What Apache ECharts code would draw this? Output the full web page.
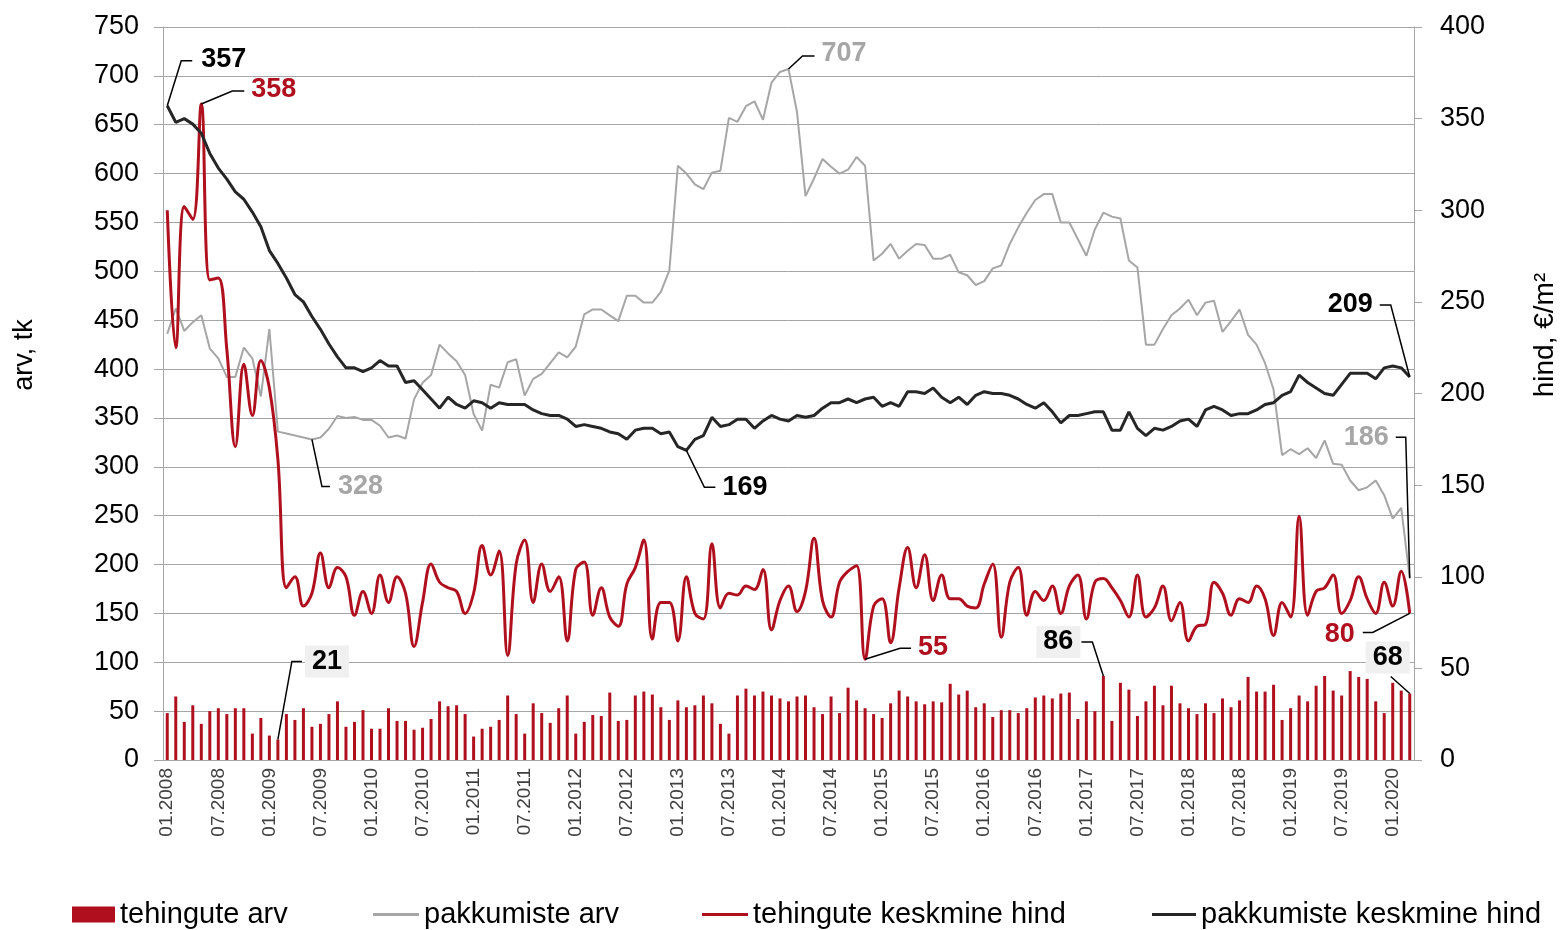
<!DOCTYPE html>
<html>
<head>
<meta charset="utf-8">
<script src="https://cdn.jsdelivr.net/npm/echarts@6/dist/echarts.min.js"></script>
<style>
html, body {margin:0; padding:0; background:#fff;}
#main {width:1561px; height:930px;}
</style>
</head>
<body>
<div id="main"></div>
<script>
// kuud 01.2008 ... 03.2020
var months = [];
for (var y = 2008; y <= 2020; y++) {
    for (var m = 1; m <= 12; m++) {
        if (months.length < 147) {
            months.push((m < 10 ? '0' + m : '' + m) + '.' + y);
        }
    }
}

// tehingute arv (vasak telg)
var tehinguteArv = [
    48,65,39,56,37,50,53,47,53,53,27,43,25,21,47,41,53,34,37,47,60,34,39,51,
    32,32,53,40,40,31,33,42,60,55,56,47,24,32,34,41,66,47,27,58,48,38,53,66,
    27,39,46,45,69,40,41,66,70,67,54,41,61,54,56,66,58,37,27,66,73,66,70,66,63,
    60,65,66,54,47,65,48,74,61,53,47,43,58,71,65,60,57,60,59,78,67,71,54,58,44,
    51,51,48,53,64,66,63,68,69,42,60,50,86,40,79,72,45,60,76,56,76,58,53,47,58,
    48,63,54,61,85,70,70,77,41,53,66,60,76,86,71,66,91,85,83,60,48,79,71,68
];

// pakkumiste arv (vasak telg)
var pakkumisteArv = [
    436,462,439,448,455,421,411,392,392,422,411,372,441,336,334,332,330,328,330,339,352,350,351,348,
    348,342,330,332,329,369,386,394,425,416,408,394,354,337,384,381,407,410,373,390,395,406,417,412,
    423,456,461,461,455,449,475,475,468,468,479,501,608,600,589,584,601,603,657,653,669,674,655,693,704,
    707,663,577,595,615,607,600,604,617,608,511,518,528,513,521,528,527,513,513,517,499,496,486,490,503,
    506,528,545,560,573,579,579,550,550,533,516,543,560,556,554,511,504,425,425,441,455,462,471,455,468,
    470,438,449,461,435,425,406,379,312,318,313,319,309,327,303,302,286,276,279,286,271,247,258,186
];

// tehingute keskmine hind (parem telg)
var tehinguteHind = [
    300,225,302,295,358,262,263,224,171,216,188,218,203,164,94,100,84,91,113,94,105,100,79,92,
    80,101,86,100,91,62,86,107,97,94,92,80,91,117,101,114,57,107,120,86,107,92,100,65,
    104,108,79,94,78,73,96,105,120,66,86,86,65,100,80,77,118,83,91,90,95,93,104,71,87,
    95,81,92,121,87,78,97,103,106,55,84,88,64,94,116,94,112,87,101,88,88,84,83,96,107,
    67,97,105,79,92,87,95,80,95,101,77,97,99,94,87,78,101,78,83,95,76,86,65,73,74,
    97,91,79,88,86,95,88,68,86,78,133,79,92,94,101,80,87,100,88,80,97,84,103,80
];

// pakkumiste keskmine hind (parem telg)
var pakkumisteHind = [
    357,348,350,347,342,331,323,317,310,306,299,291,278,271,263,254,250,242,235,227,220,214,214,212,
    214,218,215,215,206,207,202,197,192,198,194,192,196,195,192,195,194,194,194,191,189,188,188,186,
    182,183,182,181,179,178,175,180,181,181,178,179,171,169,175,177,187,182,183,186,186,181,185,188,186,
    185,188,187,188,192,195,195,197,195,197,198,193,195,193,201,201,200,203,198,195,198,194,199,201,200,
    200,199,197,194,192,195,190,184,188,188,189,190,190,180,180,190,181,177,181,180,182,185,186,182,191,
    193,191,188,189,189,191,194,195,199,201,210,206,203,200,199,205,211,211,211,208,214,215,214,209
];

var RED = '#b0101e';
var GRAY = '#a6a6a6';
var BLACK = '#262626';
var FONT = '"Liberation Sans", Arial, sans-serif';

var chart = echarts.init(document.getElementById('main'));

var legendText = {fontSize: 29, color: '#000', fontFamily: FONT};

var option = {
    animation: false,
    backgroundColor: '#fff',
    grid: {left: 163, right: 147, top: 27, bottom: 170, containLabel: false, outerBoundsMode: 'none'},
    legend: [
        {data: ['tehingute arv'], left: 67, top: 895, icon: 'rect', itemWidth: 43, itemHeight: 16, textStyle: legendText},
        {data: ['pakkumiste arv'], left: 368, top: 895, icon: 'rect', itemWidth: 46, itemHeight: 3, textStyle: legendText},
        {data: ['tehingute keskmine hind'], left: 697, top: 895, icon: 'rect', itemWidth: 46, itemHeight: 3, textStyle: legendText},
        {data: ['pakkumiste keskmine hind'], left: 1147, top: 895, icon: 'rect', itemWidth: 44, itemHeight: 3, textStyle: legendText}
    ],
    xAxis: {
        type: 'category',
        data: months,
        boundaryGap: true,
        axisLine: {lineStyle: {color: GRAY}},
        axisTick: {show: false},
        splitLine: {show: false},
        axisLabel: {interval: 5, rotate: 90, fontSize: 19, color: '#404040', fontFamily: FONT, margin: 8}
    },
    yAxis: [{
        type: 'value', min: 0, max: 750, interval: 50,
        axisLine: {show: true, lineStyle: {color: GRAY}},
        axisTick: {show: true, length: 9, lineStyle: {color: GRAY}},
        splitLine: {show: true, lineStyle: {color: GRAY, width: 1}},
        axisLabel: {fontSize: 27, color: '#000', fontFamily: FONT, margin: 24}
    }, {
        type: 'value', min: 0, max: 400, interval: 50, position: 'right',
        axisLine: {show: true, lineStyle: {color: GRAY}},
        axisTick: {show: true, length: 8, lineStyle: {color: GRAY}},
        splitLine: {show: false},
        axisLabel: {fontSize: 27, color: '#000', fontFamily: FONT, margin: 26}
    }],
    series: [{
        name: 'tehingute arv',
        type: 'bar',
        yAxisIndex: 0,
        barWidth: 3,
        itemStyle: {color: RED},
        data: tehinguteArv
    }, {
        name: 'pakkumiste arv',
        type: 'line',
        yAxisIndex: 0,
        showSymbol: false,
        lineStyle: {color: GRAY, width: 2},
        itemStyle: {color: GRAY},
        data: pakkumisteArv
    }, {
        name: 'tehingute keskmine hind',
        type: 'line',
        yAxisIndex: 1,
        smooth: 0.4,
        showSymbol: false,
        lineStyle: {color: RED, width: 3},
        itemStyle: {color: RED},
        data: tehinguteHind
    }, {
        name: 'pakkumiste keskmine hind',
        type: 'line',
        yAxisIndex: 1,
        showSymbol: false,
        lineStyle: {color: BLACK, width: 3},
        itemStyle: {color: BLACK},
        data: pakkumisteHind
    }]
};
chart.setOption(option);

// väljavõtted (callout) – joon punktist sildini
var callouts = [
    {arr: pakkumisteHind, i: 0, ax: 1, lead: [[14, -45], [25, -45]], tx: 34, ty: -46, align: 'left', color: '#000'},
    {arr: tehinguteHind, i: 4, ax: 1, lead: [[31, -13], [43, -13]], tx: 50, ty: -14, align: 'left', color: RED},
    {arr: pakkumisteArv, i: 17, ax: 0, lead: [[10, 47], [18, 47]], tx: 26, ty: 47, align: 'left', color: GRAY},
    {arr: pakkumisteHind, i: 61, ax: 1, lead: [[18, 37], [29, 37]], tx: 36, ty: 37, align: 'left', color: '#000'},
    {arr: pakkumisteArv, i: 73, ax: 0, lead: [[14, -13], [26, -13]], tx: 33, ty: -15, align: 'left', color: GRAY},
    {arr: tehinguteHind, i: 82, ax: 1, lead: [[35, -11], [46, -11]], tx: 53, ty: -12, align: 'left', color: RED},
    {arr: tehinguteArv, i: 110, ax: 0, lead: [[-11, -34], [-22, -34]], tx: -23, ty: -34, align: 'right', color: '#000', box: true},
    {arr: pakkumisteHind, i: 146, ax: 1, lead: [[-19, -72], [-30, -72]], tx: -37, ty: -72, align: 'right', color: '#000'},
    {arr: pakkumisteArv, i: 146, ax: 0, lead: [[-4, -141], [-14, -141]], tx: -21, ty: -141, align: 'right', color: GRAY},
    {arr: tehinguteHind, i: 146, ax: 1, lead: [[-37, 19], [-47, 19]], tx: -55, ty: 21, align: 'right', color: RED},
    {arr: tehinguteArv, i: 146, ax: 0, lead: [[-19, -17]], tx: 0, ty: -36, align: 'right', color: '#000', box: true},
    {arr: tehinguteArv, i: 13, ax: 0, lead: [[14, -78], [24, -78]], tx: 27, ty: -78, align: 'left', color: '#000', box: true}
];

var graphics = [];
callouts.forEach(function(c) {
    var p = chart.convertToPixel({xAxisIndex: 0, yAxisIndex: c.ax}, [c.i, c.arr[c.i]]);
    var pts = [[p[0], p[1]]];
    c.lead.forEach(function(d) { pts.push([p[0] + d[0], p[1] + d[1]]); });
    graphics.push({
        type: 'polyline', z: 100,
        shape: {points: pts},
        style: {stroke: '#000', lineWidth: 1.5, fill: null}
    });
    var st = {
        text: String(c.arr[c.i]),
        fill: c.color,
        fontSize: 27, fontWeight: 'bold', fontFamily: FONT,
        align: c.align, textAlign: c.align,
        verticalAlign: 'middle', textVerticalAlign: 'middle'
    };
    if (c.box) {
        st.backgroundColor = '#f0f0f0';
        st.padding = [3, 7, 2, 7];
    }
    graphics.push({type: 'text', z: 101, x: p[0] + c.tx, y: p[1] + c.ty, style: st});
});

// telgede nimed
graphics.push({
    type: 'text', x: 25, y: 355, rotation: Math.PI / 2, z: 50,
    style: {text: 'arv, tk', fill: '#000', fontSize: 27, fontFamily: FONT,
        align: 'center', textAlign: 'center', verticalAlign: 'middle', textVerticalAlign: 'middle'}
});
graphics.push({
    type: 'text', x: 1545, y: 335, rotation: Math.PI / 2, z: 50,
    style: {text: 'hind, €/m²', fill: '#000', fontSize: 28, fontFamily: FONT,
        align: 'center', textAlign: 'center', verticalAlign: 'middle', textVerticalAlign: 'middle'}
});

chart.setOption({graphic: graphics});
</script>
</body>
</html>
